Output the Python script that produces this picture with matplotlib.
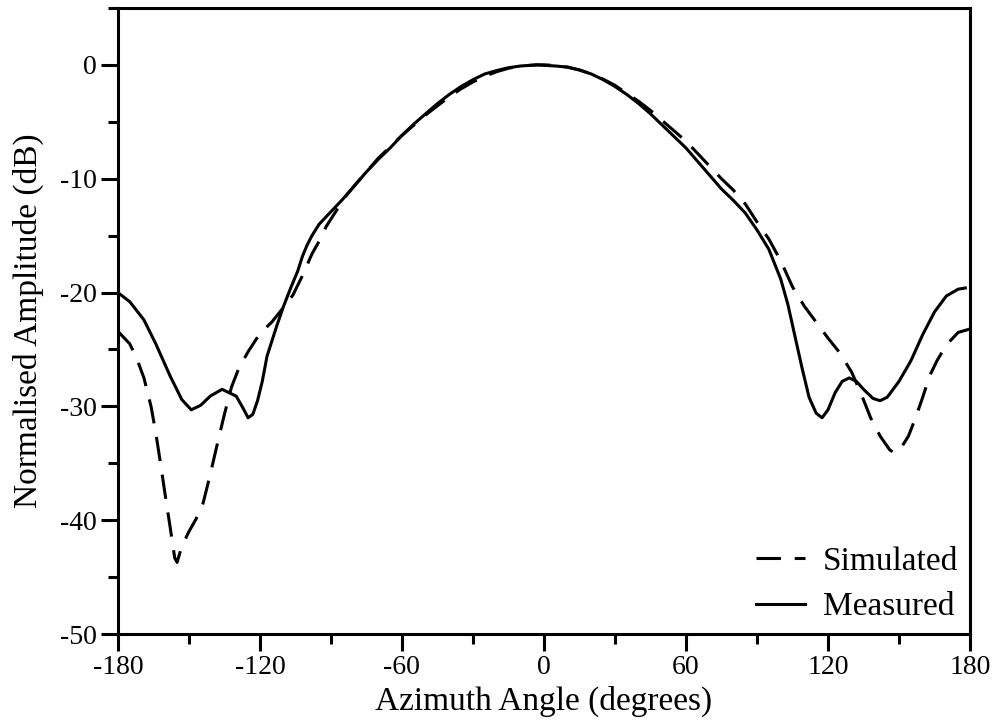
import matplotlib
matplotlib.use("Agg")
import matplotlib.pyplot as plt
from matplotlib.ticker import MultipleLocator

plt.rcParams['font.family'] = ['Liberation Serif', 'DejaVu Serif']

meas_deg = [-180, -175, -169, -164, -158, -153, -149, -145, -141, -136, -130, -127, -125, -123, -121, -119, -117, -113, -110, -107,
            -104, -102, -100, -98, -95, -90, -85, -80, -75, -70, -65, -60, -55, -50, -45, -40, -35, -30, -25, -20,
            -15, -10, -3, 5, 10, 15, 20, 25, 30, 35, 40, 45, 50, 55, 60, 65, 70, 75, 80, 85,
            90, 95, 100, 103, 106, 109, 112, 115, 117.5, 120, 123, 126, 129, 132, 135, 139, 142, 145, 150, 155,
            160, 165, 170, 175, 178]
meas_db = [-20.0, -20.8, -22.4, -24.5, -27.3, -29.4, -30.3, -29.9, -29.1, -28.5, -29.1, -30.2, -31.0, -30.7, -29.5, -27.8, -25.6, -23.0, -21.2, -19.6,
           -18.1, -16.8, -15.8, -15.0, -14.0, -12.9, -11.8, -10.6, -9.4, -8.3, -7.3, -6.2, -5.2, -4.3, -3.4, -2.6, -1.9, -1.3, -0.8, -0.5,
           -0.25, -0.1, 0.0, -0.1, -0.2, -0.45, -0.8, -1.3, -1.9, -2.6, -3.4, -4.3, -5.3, -6.3, -7.3, -8.5, -9.7, -10.9, -11.9, -13.0,
           -14.5, -16.2, -18.8, -21.0, -23.8, -26.6, -29.2, -30.6, -31.0, -30.3, -28.8, -27.8, -27.5, -27.8, -28.5, -29.3, -29.5, -29.2, -27.8, -26.0,
           -23.7, -21.7, -20.3, -19.7, -19.6]

sim_deg = [-180, -175, -172, -169, -166, -164, -162, -160, -158, -156, -155, -153, -150, -147, -144, -141, -138, -135, -132, -129,
           -125, -120, -115, -110, -106, -102, -98, -95, -92, -88, -84, -80, -75, -70, -65, -60, -55, -50, -45, -40,
           -35, -30, -25, -20, -15, -10, -3, 0, 5, 10, 15, 20, 25, 30, 35, 40, 45, 50, 55, 60,
           65, 70, 75, 80, 85, 90, 95, 100, 105, 110, 115, 120, 125, 130, 134, 138, 142, 146, 148, 151,
           154, 157, 160, 163, 166, 170, 175, 180]
sim_db = [-23.4, -24.5, -25.8, -27.5, -30.0, -32.3, -35.0, -37.8, -40.5, -43.3, -43.7, -42.3, -41.0, -39.9, -38.5, -36.0, -33.3, -30.7, -28.3, -26.7,
          -25.2, -23.6, -22.6, -21.3, -20.2, -18.5, -16.6, -15.5, -14.2, -12.9, -11.6, -10.6, -9.4, -8.2, -7.2, -6.2, -5.3, -4.4, -3.6, -2.8,
          -2.1, -1.5, -1.0, -0.6, -0.3, -0.1, 0.0, 0.0, -0.05, -0.2, -0.45, -0.8, -1.25, -1.8, -2.5, -3.2, -4.0, -4.9, -5.8, -6.7,
          -7.8, -8.9, -10.0, -11.0, -12.2, -13.8, -15.3, -17.2, -19.5, -21.2, -22.6, -24.0, -25.3, -27.0, -28.9, -31.0, -32.6, -33.8, -34.1, -33.6,
          -32.6, -31.0, -29.2, -27.3, -26.0, -24.6, -23.5, -23.2]

xticks = [-180, -120, -60, 0, 60, 120, 180]
yticks = [-50, -40, -30, -20, -10, 0]

fig = plt.figure(figsize=(9.99, 7.23), dpi=100)
ax = fig.add_axes([0.118, 0.123, 0.853, 0.866])

lw = 2.2
ax.plot(sim_deg, sim_db, color='black', lw=lw, linestyle=(0, (8, 4.5)), label='Simulated')
ax.plot(meas_deg, meas_db, color='black', lw=lw, linestyle='-', label='Measured')

ax.set_xlim(-180, 180)
ax.set_ylim(-50, 5)
ax.set_xticks(xticks)
ax.set_xticklabels([str(t) for t in xticks])
ax.set_yticks(yticks)
ax.set_yticklabels([str(t) for t in yticks])
ax.xaxis.set_minor_locator(MultipleLocator(30))
ax.yaxis.set_minor_locator(MultipleLocator(5))
ax.tick_params(which='major', direction='out', length=12, width=2.2, labelsize=20, pad=3)
ax.tick_params(which='minor', direction='out', length=7, width=2.2)
ax.tick_params(top=False, right=False, which='both')
for s in ax.spines.values():
    s.set_linewidth(2.2)

ax.set_xlabel('Azimuth Angle (degrees)', fontsize=24, labelpad=4)
ax.set_ylabel('Normalised Amplitude (dB)', fontsize=24, labelpad=12)

leg = ax.legend(loc='lower right', frameon=False, fontsize=24, handlelength=1.45,
                handletextpad=0.55, labelspacing=0.45, borderaxespad=0.05,
                borderpad=0.3)

fig.savefig('out.png', dpi=100)
